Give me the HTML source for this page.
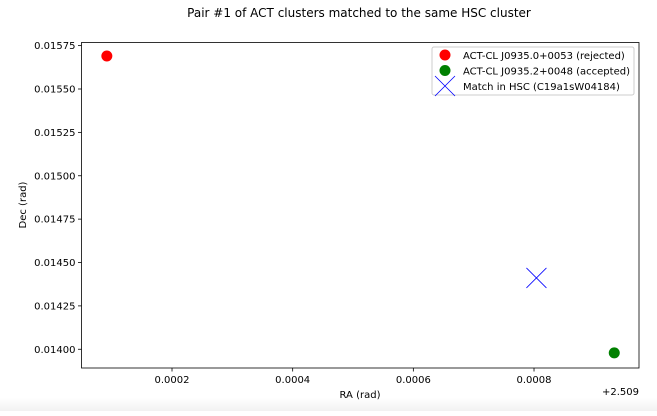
<!DOCTYPE html>
<html><head><meta charset="utf-8"><style>
body{margin:0;background:#fff;}
svg text{font-family:"DejaVu Sans","Liberation Sans",sans-serif;fill:#000;}
</style></head><body>
<svg width="657" height="411" xmlns="http://www.w3.org/2000/svg">
<defs><linearGradient id="fade" x1="0" y1="0" x2="0" y2="1"><stop offset="0" stop-color="#fff"/><stop offset="1" stop-color="#f2f2f2"/></linearGradient></defs>
<rect width="657" height="411" fill="#fff"/>
<rect x="0" y="398" width="657" height="13" fill="url(#fade)"/>
<text x="359" y="17" font-size="12" text-anchor="middle">Pair #1 of ACT clusters matched to the same HSC cluster</text>
<g id="axes"></g>
<g id="marks"></g>
<g>
<rect x="432" y="47" width="202" height="48" fill="#fff" stroke="#ccc" rx="2"/>
<circle cx="445" cy="55" r="5.5" fill="red"/>
<text x="463" y="59" font-size="10">ACT-CL J0935.0+0053 (rejected)</text>
<circle cx="445" cy="70.5" r="5.5" fill="green"/>
<text x="463" y="74.5" font-size="10">ACT-CL J0935.2+0048 (accepted)</text>
<path d="M435 76 L455 96 M455 76 L435 96" stroke="blue" stroke-width="0.8"/>
<text x="463" y="90" font-size="10">Match in HSC (C19a1sW04184)</text>
</g>
</svg>
<script>
const xTicks=[0.0002,0.0004,0.0006,0.0008];
const xTickLabels=["0.0002","0.0004","0.0006","0.0008"];
const yTicks=[0.014,0.01425,0.0145,0.01475,0.015,0.01525,0.0155,0.01575];
const yTickLabels=["0.01400","0.01425","0.01450","0.01475","0.01500","0.01525","0.01550","0.01575"];
const rejectedRA=[0.000092];const rejectedDec=[0.01569];
const acceptedRA=[0.000933];const acceptedDec=[0.013979];
const matchRA=[0.000804];const matchDec=[0.014411];
const L=81.5,R=639,T=42.5,B=368;
const xMin=0.00005,xMax=0.000974,yMin=0.013892,yMax=0.015768;
const sx=v=>L+(v-xMin)/(xMax-xMin)*(R-L);
const sy=v=>B-(v-yMin)/(yMax-yMin)*(B-T);
const NS="http://www.w3.org/2000/svg";
function mk(tag,attrs,parent,txt){const e=document.createElementNS(NS,tag);for(const k in attrs)e.setAttribute(k,attrs[k]);if(txt!=null)e.textContent=txt;parent.appendChild(e);return e;}
const ax=document.getElementById('axes'),mg=document.getElementById('marks');
const frame=mk('rect',{x:L,y:T,width:R-L,height:B-T,fill:'none',stroke:'#000','stroke-width':0.8},ax);


xTicks.forEach((v,i)=>{const x=sx(v);
const t=mk('line',{x1:x,x2:x,y1:B,y2:B+3.5,stroke:'#000','stroke-width':0.8},ax);


const l=mk('text',{x:x,y:B+15,'font-size':10,'text-anchor':'middle'},ax,xTickLabels[i]);

});
yTicks.forEach((v,i)=>{const y=sy(v);
const t=mk('line',{x1:L-3.5,x2:L,y1:y,y2:y,stroke:'#000','stroke-width':0.8},ax);


const l=mk('text',{x:L-6,y:y+3.5,'font-size':10,'text-anchor':'end'},ax,yTickLabels[i]);

});
const off=mk('text',{x:639,y:395,'font-size':10,'text-anchor':'end'},ax,'+2.509');


const xt=mk('text',{x:360,y:398,'font-size':10,'text-anchor':'middle'},ax,'RA (rad)');


const yt=mk('text',{x:26,y:205,'font-size':10,'text-anchor':'middle',transform:'rotate(-90 26 205)'},ax,'Dec (rad)');


rejectedRA.forEach((v,i)=>{const c=mk('circle',{cx:sx(v),cy:sy(rejectedDec[i]),r:5.5,fill:'red'},mg);

});
acceptedRA.forEach((v,i)=>{const c=mk('circle',{cx:sx(v),cy:sy(acceptedDec[i]),r:5.5,fill:'green'},mg);

});
matchRA.forEach((v,i)=>{const x=sx(v),y=sy(matchDec[i]);
const p=mk('path',{d:`M${x-10} ${y-10} L${x+10} ${y+10} M${x+10} ${y-10} L${x-10} ${y+10}`,stroke:'blue','stroke-width':0.8},mg);

});
</script>
</body></html>
